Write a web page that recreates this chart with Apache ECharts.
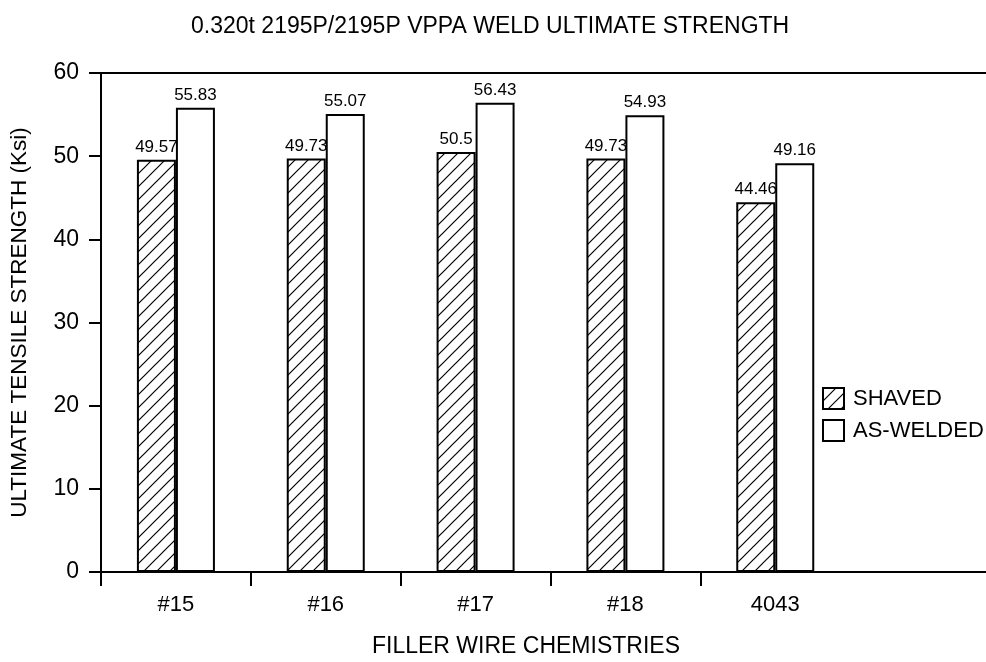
<!DOCTYPE html>
<html>
<head>
<meta charset="utf-8">
<script src="https://cdn.jsdelivr.net/npm/echarts@6/dist/echarts.min.js"></script>
<style>
  html, body { margin: 0; padding: 0; background: #fff; overflow: hidden; }
  /* chart is a bit wider than the window so the last empty band runs off the right edge */
  #chart { width: 1000px; height: 662px; }
</style>
</head>
<body>
<div id="chart"></div>
<script>
/* data */
const categories = ['#15', '#16', '#17', '#18', '4043', ''];
const shaved = [49.57, 49.73, 50.5, 49.73, 44.46];
const asWelded = [55.83, 55.07, 56.43, 54.93, 49.16];
const yTicks = [0, 10, 20, 30, 40, 50, 60];

const FONT = "'Liberation Sans Narrow', 'Arial Narrow', 'Liberation Sans', Arial, sans-serif";

/* hatch pattern for SHAVED */
function hatch() {
    const c = document.createElement('canvas');
    c.width = 13; c.height = 13;
    const ctx = c.getContext('2d');
    ctx.fillStyle = '#fff';
    ctx.fillRect(0, 0, 13, 13);
    ctx.strokeStyle = '#000';
    ctx.lineWidth = 1.2;
    ctx.beginPath();
    ctx.moveTo(-1, 14); ctx.lineTo(14, -1);
    ctx.moveTo(-1, 1); ctx.lineTo(1, -1);
    ctx.moveTo(12, 14); ctx.lineTo(14, 12);
    ctx.stroke();
    return c;
}

const chart = echarts.init(document.getElementById('chart'), null, {renderer: 'canvas'});

const labelStyle = {
    show: true,
    position: 'top',
    distance: 4,
    color: '#000',
    fontSize: 17,
    fontFamily: FONT
};

const option = {
    backgroundColor: '#fff',
    animation: false,
    title: [
        {
            text: '0.320t 2195P/2195P VPPA WELD ULTIMATE STRENGTH',
            left: 186,
            top: 10,
            textStyle: {fontSize: 23, fontWeight: 'normal', color: '#000', fontFamily: FONT}
        },
        {
            text: 'FILLER WIRE CHEMISTRIES',
            left: 367,
            top: 630,
            textStyle: {fontSize: 23, fontWeight: 'normal', color: '#000', fontFamily: FONT}
        }
    ],
    legend: {
        orient: 'vertical',
        left: 817,
        top: 382,
        itemWidth: 21,
        itemHeight: 21,
        itemGap: 9,
        icon: 'rect',
        textStyle: {fontSize: 22, color: '#000', fontFamily: FONT, padding: [0, 0, 0, 4]},
        data: ['SHAVED', 'AS-WELDED']
    },
    grid: {
        left: 100,
        right: 0,
        top: 73,
        bottom: 90
    },
    xAxis: [
        {
            type: 'category',
            data: categories,
            axisLine: {lineStyle: {color: '#000', width: 2}},
            axisTick: {
                show: true,
                length: 14,
                lineStyle: {color: '#000', width: 2},
                interval: (i) => i < 5
            },
            axisLabel: {margin: 22, fontSize: 22, color: '#000', fontFamily: FONT}
        },
        {
            // plain top frame line
            type: 'category',
            position: 'top',
            data: categories,
            axisLine: {show: true, lineStyle: {color: '#000', width: 2}},
            axisTick: {show: false},
            axisLabel: {show: false}
        }
    ],
    yAxis: {
        type: 'value',
        min: yTicks[0],
        max: yTicks[yTicks.length - 1],
        interval: 10,
        name: 'ULTIMATE TENSILE STRENGTH (Ksi)',
        nameLocation: 'middle',
        nameGap: 70,
        nameTextStyle: {fontSize: 22.5, color: '#000', fontFamily: FONT},
        splitLine: {show: false},
        axisLine: {show: true, lineStyle: {color: '#000', width: 2}},
        axisTick: {show: true, length: 12, lineStyle: {color: '#000', width: 2}},
        axisLabel: {margin: 22, fontSize: 23, color: '#000', fontFamily: FONT}
    },
    series: [
        {
            name: 'SHAVED',
            type: 'bar',
            data: shaved,
            barWidth: 39,
            barGap: '0%',
            itemStyle: {
                color: {image: hatch(), repeat: 'repeat'},
                borderColor: '#000',
                borderWidth: 2
            },
            label: labelStyle
        },
        {
            name: 'AS-WELDED',
            type: 'bar',
            data: asWelded,
            barWidth: 39,
            barGap: '0%',
            itemStyle: {color: '#fff', borderColor: '#000', borderWidth: 2},
            label: labelStyle
        }
    ]
};

chart.setOption(option);
</script>
</body>
</html>
